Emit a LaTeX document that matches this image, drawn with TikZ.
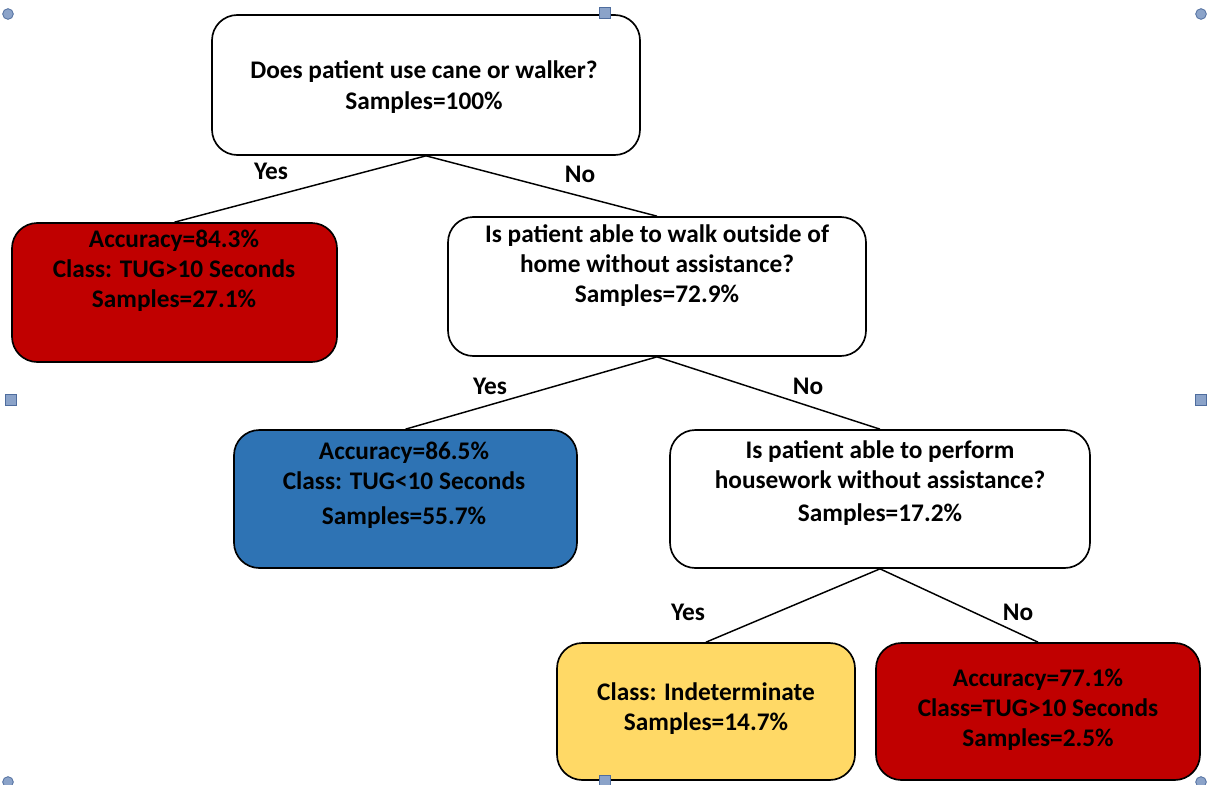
\documentclass[tikz,border=0pt]{standalone}
\usepackage{fontspec}
\setmainfont{Carlito}
\definecolor{boxred}{HTML}{C00000}
\definecolor{boxblue}{HTML}{2E73B4}
\definecolor{boxyellow}{HTML}{FFD966}
\definecolor{handlefill}{HTML}{8BA3C9}
\definecolor{handledraw}{HTML}{4F6D9E}
\begin{document}
\begin{tikzpicture}[x=0.75pt,y=-0.75pt,
  box/.style={draw=black, line width=1.25pt, rounded corners=19pt, inner sep=0pt},
  txt/.style={font=\fontsize{19}{22.5}\selectfont\bfseries, align=center, text=black, inner sep=0pt},
  lbl/.style={font=\fontsize{19}{22.5}\selectfont\bfseries, text=black, inner sep=0pt},
  edge/.style={draw=black, line width=1.1pt},
  hcircle/.style={circle, fill=handlefill, draw=handledraw, line width=0.6pt, minimum size=8pt, inner sep=0pt},
  hsquare/.style={rectangle, fill=handlefill, draw=handledraw, line width=0.6pt, minimum size=8pt, inner sep=0pt}]
\useasboundingbox[fill=white] (0,0) rectangle (1210,785);

% boxes
\node[box, fill=white, minimum width=321pt, minimum height=105pt] (A) at (426,85) {};
\node[box, fill=boxred, minimum width=243.75pt, minimum height=104.25pt] (B) at (174.5,292.5) {};
\node[box, fill=white, minimum width=313.5pt, minimum height=104.25pt] (C) at (657,286.5) {};
\node[box, fill=boxblue, minimum width=257.25pt, minimum height=103.5pt] (D) at (405.5,499) {};
\node[box, fill=white, minimum width=315pt, minimum height=103.5pt] (E) at (880,499) {};
\node[box, fill=boxyellow, minimum width=223.5pt, minimum height=102.75pt] (F) at (706,711.5) {};
\node[box, fill=boxred, minimum width=243pt, minimum height=102.75pt] (G) at (1038,711.5) {};

% texts
\node[txt] (At) at (424,87) {Does patient use cane or walker?\\[1pt] Samples=100\%};
\node[txt] (Bt) at (174,271) {Accuracy=84.3\%\\ Class: TUG>10 Seconds\\ Samples=27.1\%};
\node[txt] (Ct) at (657,266) {Is patient able to walk outside of\\ home without assistance?\\ Samples=72.9\%};
\node[txt] (Dt) at (404,485) {Accuracy=86.5\%\\ Class: TUG<10 Seconds\\[4pt] Samples=55.7\%};
\node[txt] (Et) at (880,483) {Is patient able to perform\\ housework without assistance?\\[2pt] Samples=17.2\%};
\node[txt] (Ft) at (706,709) {Class: Indeterminate\\ Samples=14.7\%};
\node[txt] (Gt) at (1038,710) {Accuracy=77.1\%\\ Class=TUG>10 Seconds\\ Samples=2.5\%};

% connectors
\draw[edge] (A.south) -- (B.north);
\draw[edge] (A.south) -- (C.north);
\draw[edge] (C.south) -- (D.north);
\draw[edge] (C.south) -- (E.north);
\draw[edge] (E.south) -- (F.north);
\draw[edge] (E.south) -- (G.north);

% labels
\node[lbl] (l1) at (271,171) {Yes};
\node[lbl] (l2) at (580,174) {No};
\node[lbl] (l3) at (490,386) {Yes};
\node[lbl] (l4) at (808,386) {No};
\node[lbl] (l5) at (688,612) {Yes};
\node[lbl] (l6) at (1018,612) {No};

% selection handles
\node[hcircle] (h1) at (8,14) {};
\node[hsquare] (h2) at (605,13) {};
\node[hcircle] (h3) at (1201,14) {};
\node[hsquare] (h4) at (11,400) {};
\node[hsquare] (h5) at (1201,400) {};
\node[hcircle] (h6) at (8,782) {};
\node[hsquare] (h7) at (605,781) {};
\node[hcircle] (h8) at (1201,782) {};
\end{tikzpicture}
\end{document}
